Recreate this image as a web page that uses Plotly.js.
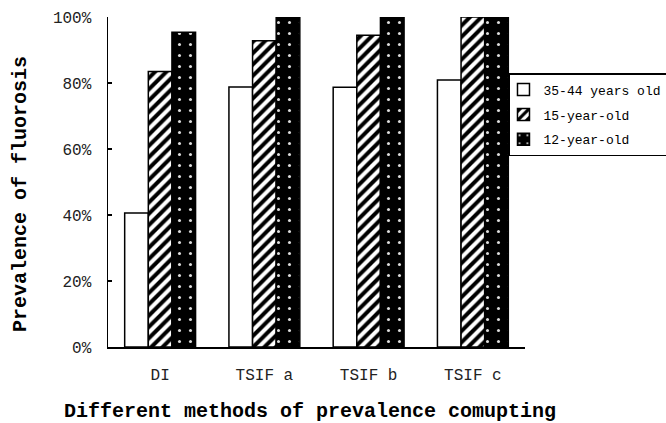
<!DOCTYPE html>
<html>
<head>
<meta charset="utf-8">
<script src="https://cdn.plot.ly/plotly-3.0.1.min.js"></script>
<style>html,body{margin:0;padding:0;background:#fff;}#chart{width:666px;height:423px;}</style>
</head>
<body>
<div id="chart"></div>
<script>
const categories = ["DI", "TSIF a", "TSIF b", "TSIF c"];
const seriesNames = ["35-44 years old", "15-year-old", "12-year-old"];
const adult = [40.6, 78.8, 78.7, 80.9];
const teen15 = [83.5, 92.8, 94.5, 100];
const child12 = [95.4, 100, 100, 100];
const yTickVals = [0, 20, 40, 60, 80, 100];
const yTickText = ["0%", "20%", "40%", "60%", "80%", "100%"];
const xTitle = "Different methods of prevalence comupting";
const yTitle = "Prevalence of fluorosis";

const FONT = "Liberation Mono, DejaVu Sans Mono, monospace";
const line = {color: "#000", width: 1.5};

const traces = [
  {type: "bar", name: seriesNames[0], x: categories, y: adult, legendgroup: "a",
   marker: {color: "#fff", line: line}},
  {type: "bar", name: seriesNames[1], x: categories, y: teen15, legendgroup: "b",
   marker: {color: "#fff", line: line,
     pattern: {shape: "/", bgcolor: "#fff", fgcolor: "#000", size: 8, solidity: 0.5}}},
  {type: "bar", name: seriesNames[2], x: categories, y: child12, legendgroup: "c",
   marker: {color: "#000", line: line,
     pattern: {shape: ".", bgcolor: "#000", fgcolor: "#ddd", size: 11, solidity: 0.06}}}
];

const layout = {
  width: 666, height: 423,
  margin: {l: 108, r: 141, t: 17, b: 76, autoexpand: false},
  paper_bgcolor: "#fff", plot_bgcolor: "#fff",
  barmode: "group", bargap: 0.32, bargroupgap: 0,
  showlegend: true,
  font: {family: FONT, color: "#000"},
  xaxis: {
    type: "category", showline: true, linecolor: "#000", linewidth: 1.5,
    ticks: "", showgrid: false, zeroline: false,
    tickfont: {family: FONT, size: 16, color: "#222"},
    ticklabelstandoff: 12
  },
  yaxis: {
    range: [0, 100], showline: true, linecolor: "#000", linewidth: 1.5,
    ticks: "inside", ticklen: 4, tickcolor: "#000", tickwidth: 1.5,
    tickvals: yTickVals, ticktext: yTickText,
    showgrid: false, zeroline: false,
    tickfont: {family: FONT, size: 16, color: "#222"},
    ticklabelstandoff: 12
  },
  legend: {
    x: 0.9616, xanchor: "left", y: 0.83, yanchor: "top",
    bgcolor: "#fff", bordercolor: "#000", borderwidth: 1.5,
    font: {family: FONT, size: 13, color: "#000"},
    tracegroupgap: 5, itemwidth: 30, indentation: -7
  },
  annotations: [
    {text: "<b>" + xTitle + "</b>", xref: "paper", yref: "paper",
     x: 0.484, y: -0.194, xanchor: "center", yanchor: "middle",
     showarrow: false, font: {family: FONT, size: 20, color: "#000"}},
    {text: "<b>" + yTitle + "</b>", xref: "paper", yref: "paper",
     x: -0.211, y: 0.4636, xanchor: "center", yanchor: "middle", textangle: -90,
     showarrow: false, font: {family: FONT, size: 20, color: "#000"}}
  ]
};

Plotly.newPlot("chart", traces, layout, {displayModeBar: false, staticPlot: true});
</script>
</body>
</html>
